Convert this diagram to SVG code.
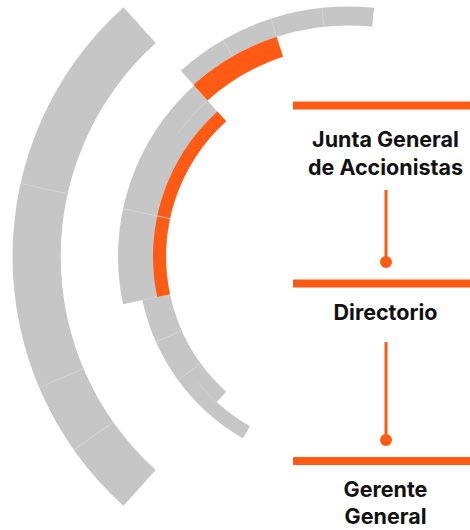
<svg xmlns="http://www.w3.org/2000/svg" width="470" height="530" viewBox="0 0 470 530">
  <style>
    .g { fill: #c6c6c6; }
    .o { fill: #ff5b14; }
    .div { fill: none; stroke: #d9d9d9; stroke-width: 0.8; }
    .bar { fill: #ff5b14; }
    .lbl { font-family: Inter, "Liberation Sans", Arial, sans-serif; font-weight: 700; font-size: 21.5px; fill: #111111; text-anchor: middle; }
    .conn { stroke: #ff5b14; stroke-width: 3; fill: none; }
    .dot { fill: #ff5b14; }
  </style>
  <rect width="470" height="530" fill="#ffffff"/>
  <g id="rings">
    <!-- outer ring -->
    <path class="g" d="M123.51,7.18 A335.5,335.5 0 0 0 123.51,505.82 L155.76,470.00 A287.3,287.3 0 0 1 155.76,43.00 Z"/>
    <path class="div" d="M113.24,422.11 L73.85,449.89 M83.54,368.76 L39.17,387.59 M67.62,193.83 L20.58,183.31"/>
    <!-- lower rings -->
    <path class="g" d="M142.59,300.16 A210,210 0 0 0 243,438.37 L250,426.24 A196,196 0 0 1 156.28,297.25 Z"/>
    <path class="g" d="M142.59,300.16 A210,210 0 0 0 207.48,412.56 L226.22,391.75 A182,182 0 0 1 169.98,294.34 Z"/>
    <path class="div" d="M200.76,363.48 L178.11,379.94 M181.73,330.53 L156.15,341.92"/>
    <path class="div" d="M197.86,382.49 A196,196 0 0 0 216.85,402.15" opacity="0.6"/>
    <!-- middle ring -->
    <path class="g" d="M194.10,85.58 A230,230 0 0 0 123.03,304.32 L169.98,294.34 A182,182 0 0 1 226.22,121.25 Z"/>
    <path class="o" d="M217.52,111.59 A195,195 0 0 0 157.26,297.04 L169.98,294.34 A182,182 0 0 1 226.22,121.25 Z"/>
    <path class="div" d="M169.98,218.66 L123.03,208.68"/>
    <path class="div" d="M178.11,133.06 A210,210 0 0 1 207.48,100.44" opacity="0.7"/>
    <!-- top ring -->
    <path class="g" d="M180.72,70.71 A250,250 0 0 1 374.13,7.87 L372.15,26.77 A231,231 0 0 0 193.43,84.83 Z"/>
    <path class="div" d="M232.5,56.45 L223,39.99 M276.62,36.81 L270.74,18.73 M323.85,26.77 L321.87,7.87"/>
    <path class="o" d="M193.43,84.83 A231,231 0 0 1 276.62,36.81 L283.11,56.78 A210,210 0 0 0 207.48,100.44 Z"/>
  </g>
  <g id="connectors">
    <line class="conn" x1="386" y1="190" x2="386" y2="262"/>
    <circle class="dot" cx="386" cy="262" r="6"/>
    <line class="conn" x1="386" y1="342" x2="386" y2="440"/>
    <circle class="dot" cx="386" cy="440" r="6"/>
  </g>
  <g id="node-junta">
    <rect class="bar" x="293" y="101.5" width="177" height="8"/>
    <text class="lbl" x="385.5" y="146.5">Junta General</text>
    <text class="lbl" x="385.5" y="175">de Accionistas</text>
  </g>
  <g id="node-directorio">
    <rect class="bar" x="293" y="279.5" width="177" height="8"/>
    <text class="lbl" x="385.5" y="320">Directorio</text>
  </g>
  <g id="node-gerente">
    <rect class="bar" x="293" y="457" width="177" height="8"/>
    <text class="lbl" x="385.5" y="496.5">Gerente</text>
    <text class="lbl" x="385.5" y="523.5">General</text>
  </g>
</svg>
